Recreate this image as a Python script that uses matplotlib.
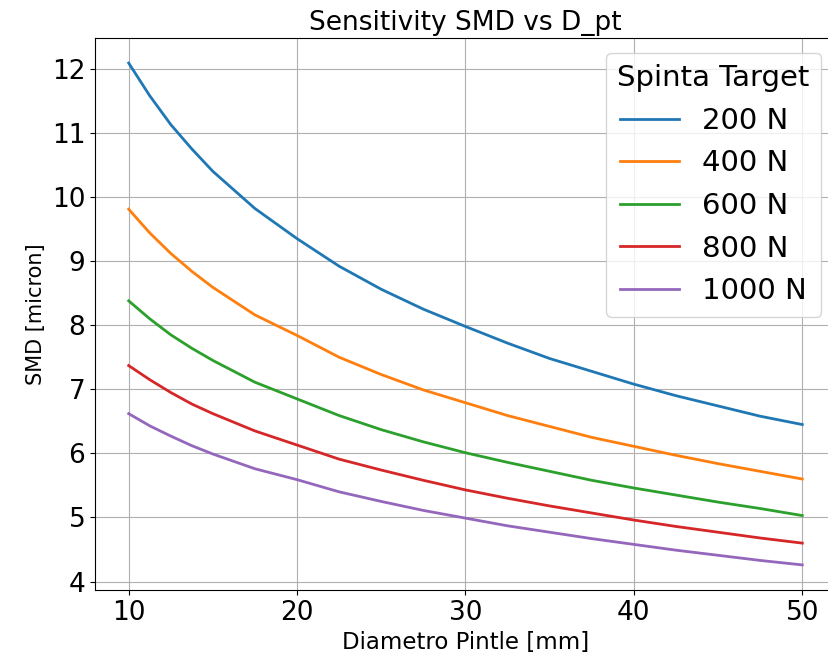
import matplotlib
matplotlib.use("Agg")
import matplotlib.pyplot as plt

# diametro pintle [mm]
d_pt = [10, 11.25, 12.5, 13.75, 15, 17.5, 20, 22.5, 25, 27.5, 30, 32.5, 35, 37.5, 40, 42.5, 45, 47.5, 50]

# SMD [micron]
smd_200 = [12.09, 11.58, 11.13, 10.75, 10.40, 9.82, 9.35, 8.92, 8.56, 8.25, 7.98, 7.72, 7.48, 7.28, 7.08, 6.90, 6.74, 6.58, 6.45]
smd_400 = [9.81, 9.44, 9.12, 8.84, 8.59, 8.16, 7.84, 7.50, 7.23, 6.99, 6.79, 6.59, 6.42, 6.25, 6.11, 5.97, 5.84, 5.72, 5.60]
smd_600 = [8.38, 8.10, 7.85, 7.64, 7.45, 7.11, 6.85, 6.59, 6.37, 6.18, 6.01, 5.86, 5.72, 5.58, 5.46, 5.35, 5.24, 5.14, 5.03]
smd_800 = [7.37, 7.15, 6.95, 6.77, 6.62, 6.35, 6.13, 5.91, 5.74, 5.58, 5.43, 5.30, 5.18, 5.07, 4.96, 4.86, 4.77, 4.68, 4.60]
smd_1000 = [6.62, 6.43, 6.27, 6.12, 5.99, 5.76, 5.59, 5.40, 5.25, 5.11, 4.99, 4.87, 4.77, 4.67, 4.58, 4.49, 4.41, 4.33, 4.26]

labels = ["200 N", "400 N", "600 N", "800 N", "1000 N"]
series = [smd_200, smd_400, smd_600, smd_800, smd_1000]

fig = plt.figure(figsize=(8.29, 6.66), dpi=100)
# il bordo destro e' tagliato nell'immagine originale
ax = fig.add_axes([0.1146, 0.1141, 0.8938, 0.8289])

for s, lab in zip(series, labels):
    ax.plot(d_pt, s, linewidth=2, label=lab)

ax.set_xticks([10, 20, 30, 40, 50])
ax.set_title("Sensitivity SMD vs D_pt", fontsize=19)
ax.set_xlabel("Diametro Pintle [mm]", fontsize=16.5)
ax.set_ylabel("SMD [micron]", fontsize=15)
ax.tick_params(labelsize=19)
ax.grid(True)
ax.legend(title="Spinta Target", fontsize=21, title_fontsize=21)

fig.savefig("out.png", dpi=100)
